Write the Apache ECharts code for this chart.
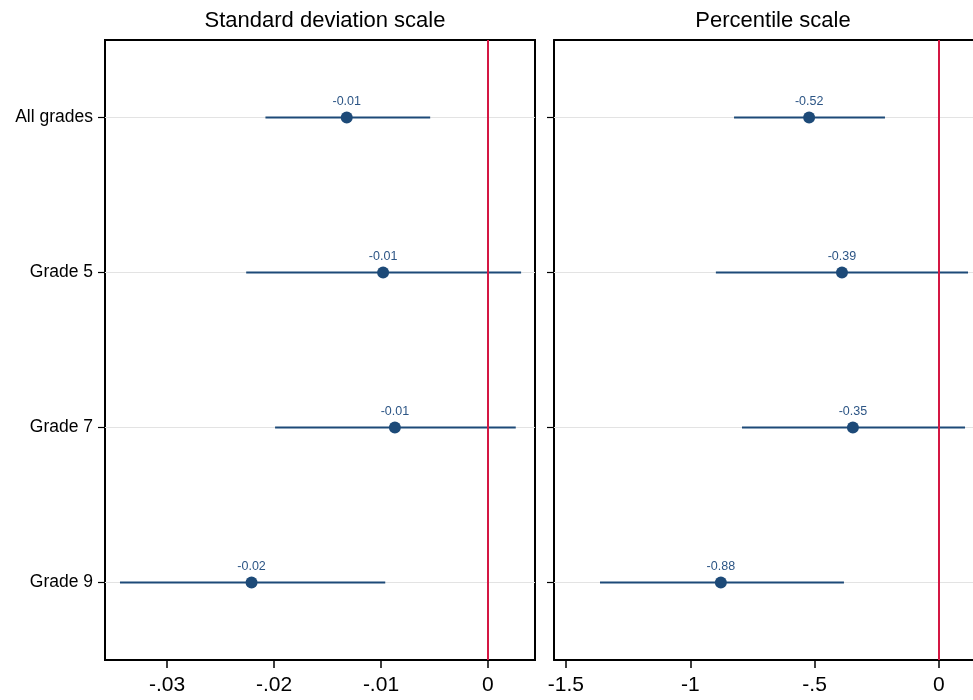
<!DOCTYPE html>
<html><head><meta charset="utf-8">
<script src="https://cdn.jsdelivr.net/npm/echarts@6/dist/echarts.min.js"></script>
<style>html,body{margin:0;padding:0;background:#fff}#c{width:973px;height:700px}</style>
</head><body><div id="c"></div>
<script>
const categories = ['All grades', 'Grade 5', 'Grade 7', 'Grade 9'];
const titles = ['Standard deviation scale', 'Percentile scale'];
// Standard deviation scale
const sdPoint = [-0.0132, -0.0098, -0.0087, -0.0221];
const sdLow   = [-0.0208, -0.0226, -0.0199, -0.0344];
const sdHigh  = [-0.0054,  0.0031,  0.0026, -0.0096];
const sdTicks = [-0.03, -0.02, -0.01, 0];
// Percentile scale
const pcPoint = [-0.522, -0.390, -0.346, -0.877];
const pcLow   = [-0.824, -0.897, -0.792, -1.363];
const pcHigh  = [-0.217,  0.117,  0.105, -0.382];
const pcTicks = [-1.5, -1, -0.5, 0];

const blue = '#1d4a78';
const red = '#d41743';
const fontFam = 'Arial, "Liberation Sans", sans-serif';

function fmtTick(v){ return String(v).replace(/^(-?)0\./, '$1.'); }

const chart = echarts.init(document.getElementById('c'));

function xAxisDef(idx, min, max, ticks){
  return {
    type: 'value', gridIndex: idx, min: min, max: max, position: 'bottom',
    axisLine: {show: true, onZero: false, lineStyle: {color: '#000', width: 2}},
    splitLine: {show: false},
    axisTick: {show: true, length: 8, customValues: ticks, lineStyle: {color: '#000', width: 1.5}},
    axisLabel: {customValues: ticks, formatter: fmtTick, fontSize: 21, color: '#000', fontFamily: fontFam, margin: 15}
  };
}
function topAxisDef(idx){
  return {
    type: 'value', gridIndex: idx, min: 0, max: 1, position: 'top',
    axisLine: {show: true, onZero: false, lineStyle: {color: '#000', width: 2}},
    splitLine: {show: false}, axisTick: {show: false}, axisLabel: {show: false}
  };
}
function yAxisDef(idx, showLabel){
  return {
    type: 'category', gridIndex: idx, data: categories, inverse: true, position: 'left',
    axisLine: {show: true, onZero: false, lineStyle: {color: '#000', width: 2}},
    splitLine: {show: false},
    axisTick: {show: true, alignWithLabel: true, length: 7, lineStyle: {color: '#000', width: 1.2}},
    axisLabel: {show: showLabel, fontSize: 17.5, color: '#000', fontFamily: fontFam, margin: 12}
  };
}
function ciSeries(idx, lo, hi){
  return {
    type: 'custom', xAxisIndex: idx, yAxisIndex: idx, z: 3,
    data: categories.map((c, i) => [lo[i], hi[i], i]),
    renderItem: function(params, api){
      const a = api.coord([api.value(0), api.value(2)]);
      const b = api.coord([api.value(1), api.value(2)]);
      return {type: 'line', shape: {x1: a[0], y1: a[1], x2: b[0], y2: b[1]},
              style: {stroke: blue, lineWidth: 2.2, fill: null}};
    },
    markLine: {
      silent: true, symbol: 'none', label: {show: false}, z: 1,
      lineStyle: {color: '#e3e3e3', width: 1, type: 'solid'},
      data: categories.map(c => ({yAxis: c}))
    }
  };
}
function ptSeries(idx, pts){
  return {
    type: 'scatter', xAxisIndex: idx, yAxisIndex: idx, z: 5,
    symbol: 'circle', symbolSize: 12,
    itemStyle: {color: blue, opacity: 1},
    data: categories.map((c, i) => [pts[i], i]),
    label: {show: true, position: 'top', distance: 3, fontSize: 12.5, color: '#2c5585', fontFamily: fontFam,
            formatter: p => p.value[0].toFixed(2)},
    markLine: {
      silent: true, symbol: 'none', label: {show: false}, z: 4,
      lineStyle: {color: red, width: 2, type: 'solid'},
      data: [{xAxis: 0}]
    }
  };
}

chart.setOption({
  animation: false,
  backgroundColor: '#fff',
  title: [
    {text: titles[0], left: 320, top: 5, textAlign: 'center', textStyle: {fontSize: 22, fontWeight: 'normal', color: '#000', fontFamily: fontFam}},
    {text: titles[1], left: 768, top: 5, textAlign: 'center', textStyle: {fontSize: 22, fontWeight: 'normal', color: '#000', fontFamily: fontFam}}
  ],
  grid: [
    {left: 105, top: 40, width: 430, height: 620, show: true, borderColor: '#000', borderWidth: 2, backgroundColor: '#fff'},
    {left: 554, top: 40, width: 419, height: 620, show: false}
  ],
  xAxis: [
    xAxisDef(0, -0.0358, 0.0044, sdTicks),
    xAxisDef(1, -1.548, 0.137, pcTicks),
    topAxisDef(1)
  ],
  yAxis: [yAxisDef(0, true), yAxisDef(1, false)],
  series: [
    ciSeries(0, sdLow, sdHigh), ptSeries(0, sdPoint),
    ciSeries(1, pcLow, pcHigh), ptSeries(1, pcPoint)
  ]
});
</script></body></html>
